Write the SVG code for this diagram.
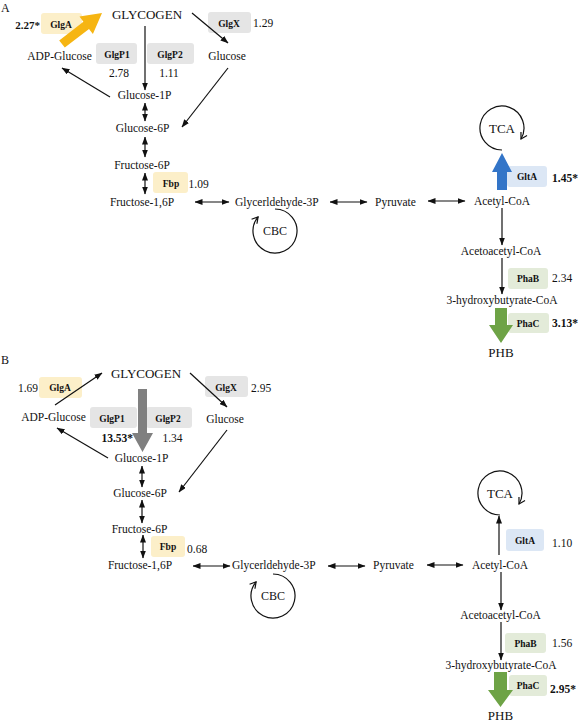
<svg xmlns="http://www.w3.org/2000/svg" width="578" height="721" viewBox="0 0 578 721">
<defs>
<style>
text{font-family:"Liberation Serif","Times New Roman",serif;font-size:11.5px;fill:#111}
.big{font-size:13px}
.m{text-anchor:middle}
.en{font-weight:bold;font-size:9.5px;text-anchor:middle}
.b{font-weight:bold}
.ln{stroke:#111;stroke-width:1.2;fill:none;marker-end:url(#ah)}
.dl{stroke:#111;stroke-width:1.2;fill:none;marker-end:url(#ah);marker-start:url(#ah)}
.cy{stroke:#111;stroke-width:1.2;fill:none;marker-end:url(#ch)}
.gy{fill:#E5E5E5}
.yl{fill:#FCEFC9}
.bl{fill:#DCE7F5}
.gr{fill:#E3EBD9}
</style>
<marker id="ah" markerUnits="userSpaceOnUse" markerWidth="8" markerHeight="6" viewBox="0 0 8 6" refX="7.5" refY="3" orient="auto-start-reverse">
<path d="M0,0 L8,3 L0,6 z" fill="#111"/>
</marker>
<marker id="ch" markerUnits="userSpaceOnUse" markerWidth="9" markerHeight="9" viewBox="0 0 9 9" refX="7" refY="4.5" orient="auto">
<path d="M1,1 L7,4.5 L1,8" fill="none" stroke="#111" stroke-width="1.2"/>
</marker>
</defs>
<rect width="578" height="721" fill="#fff"/>

<!-- ================= PANEL A ================= -->
<g id="labelA"><text x="1" y="12" style="font-size:12px">A</text></g>

<g id="A-enzymes">
<g id="A-GlgA"><rect class="yl" x="41" y="13" width="41" height="21" rx="3"/><text class="en" x="61" y="27.5">GlgA</text><text class="b" x="40" y="29" text-anchor="end" style="font-size:11px">2.27*</text></g>
<g id="A-GlgX"><rect class="gy" x="208" y="12" width="43" height="21" rx="3"/><text class="en" x="229" y="26.5">GlgX</text><text x="253" y="27">1.29</text></g>
<g id="A-GlgP1"><rect class="gy" x="96" y="43" width="41" height="21" rx="3"/><text class="en" x="117" y="57.5">GlgP1</text><text class="m" x="119" y="77">2.78</text></g>
<g id="A-GlgP2"><rect class="gy" x="147" y="43" width="47" height="21" rx="3"/><text class="en" x="170" y="57.5">GlgP2</text><text class="m" x="169" y="77">1.11</text></g>
<g id="A-Fbp"><rect class="yl" x="153" y="172" width="35" height="21" rx="3"/><text class="en" x="171" y="186.5">Fbp</text><text x="188.5" y="188">1.09</text></g>
<g id="A-GltA"><rect class="bl" x="507" y="166" width="40" height="21" rx="3"/><text class="en" x="527" y="180">GltA</text><text class="b" x="552" y="182">1.45*</text></g>
<g id="A-PhaB"><rect class="gr" x="508" y="268" width="40" height="21" rx="3"/><text class="en" x="528" y="282">PhaB</text><text x="552" y="282">2.34</text></g>
<g id="A-PhaC"><rect class="gr" x="508" y="313" width="41" height="20" rx="3"/><text class="en" x="528" y="326.5">PhaC</text><text class="b" x="552" y="327">3.13*</text></g>
</g>

<g id="A-connectors">
<polygon fill="#F6B512" points="59.2,40.4 83.4,21.7 79.5,16.6 102,13 92.9,34 89,28.9 64.8,47.6"/>
<line class="ln" x1="192" y1="13" x2="228" y2="43"/>
<line class="ln" x1="145" y1="26" x2="145" y2="90"/>
<line class="ln" x1="110" y1="97" x2="62" y2="68"/>
<line class="ln" x1="228" y1="68" x2="182" y2="127"/>
<line class="dl" x1="145" y1="103" x2="145" y2="121"/>
<line class="dl" x1="145" y1="137" x2="145" y2="157"/>
<line class="dl" x1="145" y1="173" x2="145" y2="194"/>
<line class="dl" x1="195" y1="202" x2="229" y2="202"/>
<line class="dl" x1="330" y1="202" x2="367" y2="202"/>
<line class="dl" x1="428" y1="201" x2="465" y2="201"/>
<path class="cy" d="M275,209 A22,22 0 1,1 258.1,216.9"/>
<path class="cy" d="M502,150 A22,22 0 1,1 521,139"/>
<polygon fill="#3375C8" points="497,190 497,172 492,172 502,153 512,172 507,172 507,190"/>
<line class="ln" x1="502" y1="208" x2="502" y2="245"/>
<line class="ln" x1="502" y1="258" x2="502" y2="294"/>
<polygon fill="#6EA346" points="495,308 495,325 489,325 501,343 513,325 507,325 507,308"/>
</g>

<g id="A-nodes">
<g id="A-glycogen"><text class="big m" x="147" y="19">GLYCOGEN</text></g>
<g id="A-adpglucose"><text class="m" x="59.5" y="60">ADP-Glucose</text></g>
<g id="A-glucose"><text class="m" x="227" y="60">Glucose</text></g>
<g id="A-glucose1p"><text class="m" x="144.5" y="99">Glucose-1P</text></g>
<g id="A-glucose6p"><text class="m" x="142.5" y="132">Glucose-6P</text></g>
<g id="A-fructose6p"><text class="m" x="142" y="169">Fructose-6P</text></g>
<g id="A-fructose16p"><text class="m" x="142" y="206">Fructose-1,6P</text></g>
<g id="A-g3p"><text x="235" y="206">Glycerldehyde-3P</text></g>
<g id="A-cbc"><text class="m" x="275" y="235" style="font-size:12px">CBC</text></g>
<g id="A-pyruvate"><text x="375" y="206">Pyruvate</text></g>
<g id="A-acetylcoa"><text class="m" x="502" y="205">Acetyl-CoA</text></g>
<g id="A-tca"><text class="big m" x="502" y="133">TCA</text></g>
<g id="A-acetoacetylcoa"><text class="m" x="501" y="255">Acetoacetyl-CoA</text></g>
<g id="A-3hbcoa"><text class="m" x="502" y="304">3-hydroxybutyrate-CoA</text></g>
<g id="A-phb"><text class="big m" x="501" y="356.5">PHB</text></g>
</g>

<!-- ================= PANEL B ================= -->
<g id="labelB"><text x="1" y="364" style="font-size:12px">B</text></g>

<g id="B-enzymes">
<g id="B-GlgA"><rect class="yl" x="39" y="377" width="43" height="21" rx="3"/><text class="en" x="60" y="391">GlgA</text><text x="38" y="392" text-anchor="end">1.69</text></g>
<g id="B-GlgX"><rect class="gy" x="205" y="376" width="43" height="21" rx="3"/><text class="en" x="226" y="390.5">GlgX</text><text x="251" y="392">2.95</text></g>
<g id="B-GlgP1"><rect class="gy" x="90" y="407" width="47" height="21" rx="3"/><text class="en" x="112" y="421.5">GlgP1</text><text class="b" x="133" y="442" text-anchor="end">13.53*</text></g>
<g id="B-GlgP2"><rect class="gy" x="146" y="407" width="46" height="21" rx="3"/><text class="en" x="168" y="421.5">GlgP2</text><text class="m" x="172.5" y="442">1.34</text></g>
<g id="B-Fbp"><rect class="yl" x="151" y="536" width="34" height="21" rx="3"/><text class="en" x="168" y="550">Fbp</text><text x="187" y="553">0.68</text></g>
<g id="B-GltA"><rect class="bl" x="506" y="529" width="38" height="22" rx="3"/><text class="en" x="525" y="543.5">GltA</text><text x="552" y="547">1.10</text></g>
<g id="B-PhaB"><rect class="gr" x="505" y="633" width="41" height="20" rx="3"/><text class="en" x="525.5" y="646.5">PhaB</text><text x="552" y="647">1.56</text></g>
<g id="B-PhaC"><rect class="gr" x="509" y="675" width="38" height="21" rx="3"/><text class="en" x="528" y="689">PhaC</text><text class="b" x="550" y="693">2.95*</text></g>
</g>

<g id="B-connectors">
<line class="ln" x1="55" y1="405" x2="102" y2="373"/>
<line class="ln" x1="190" y1="373" x2="227" y2="407"/>
<polygon fill="#808080" points="138,389 138,433 132,433 142.5,452 153,433 147,433 147,389"/>
<line class="ln" x1="108" y1="458" x2="57" y2="428"/>
<line class="ln" x1="227" y1="430" x2="179" y2="492"/>
<line class="dl" x1="142" y1="466" x2="142" y2="487"/>
<line class="dl" x1="142" y1="500" x2="142" y2="523"/>
<line class="dl" x1="143" y1="535" x2="143" y2="558"/>
<line class="dl" x1="193" y1="566" x2="230" y2="566"/>
<line class="dl" x1="328" y1="566" x2="365" y2="566"/>
<line class="dl" x1="427" y1="565" x2="463" y2="565"/>
<path class="cy" d="M273,574 A22,22 0 1,1 256.1,581.9"/>
<path class="cy" d="M500,515 A22,22 0 1,1 519,504"/>
<line class="ln" x1="499" y1="555" x2="499" y2="516"/>
<line class="ln" x1="501" y1="572" x2="501" y2="610"/>
<line class="ln" x1="501" y1="622" x2="501" y2="660"/>
<polygon fill="#6EA346" points="494,672 494,690 488,690 500.5,707 513,690 507,690 507,672"/>
</g>

<g id="B-nodes">
<g id="B-glycogen"><text class="big m" x="146" y="378">GLYCOGEN</text></g>
<g id="B-adpglucose"><text class="m" x="53.5" y="421">ADP-Glucose</text></g>
<g id="B-glucose"><text class="m" x="225" y="423">Glucose</text></g>
<g id="B-glucose1p"><text class="m" x="141.5" y="462">Glucose-1P</text></g>
<g id="B-glucose6p"><text class="m" x="140" y="497">Glucose-6P</text></g>
<g id="B-fructose6p"><text class="m" x="139.5" y="533">Fructose-6P</text></g>
<g id="B-fructose16p"><text class="m" x="140" y="569">Fructose-1,6P</text></g>
<g id="B-g3p"><text x="232" y="569">Glycerldehyde-3P</text></g>
<g id="B-cbc"><text class="m" x="273" y="600" style="font-size:12px">CBC</text></g>
<g id="B-pyruvate"><text x="373" y="569">Pyruvate</text></g>
<g id="B-acetylcoa"><text class="m" x="500" y="569">Acetyl-CoA</text></g>
<g id="B-tca"><text class="big m" x="500" y="498">TCA</text></g>
<g id="B-acetoacetylcoa"><text class="m" x="500.5" y="619">Acetoacetyl-CoA</text></g>
<g id="B-3hbcoa"><text class="m" x="501" y="669">3-hydroxybutyrate-CoA</text></g>
<g id="B-phb"><text class="big m" x="500.5" y="719.5">PHB</text></g>
</g>
</svg>
